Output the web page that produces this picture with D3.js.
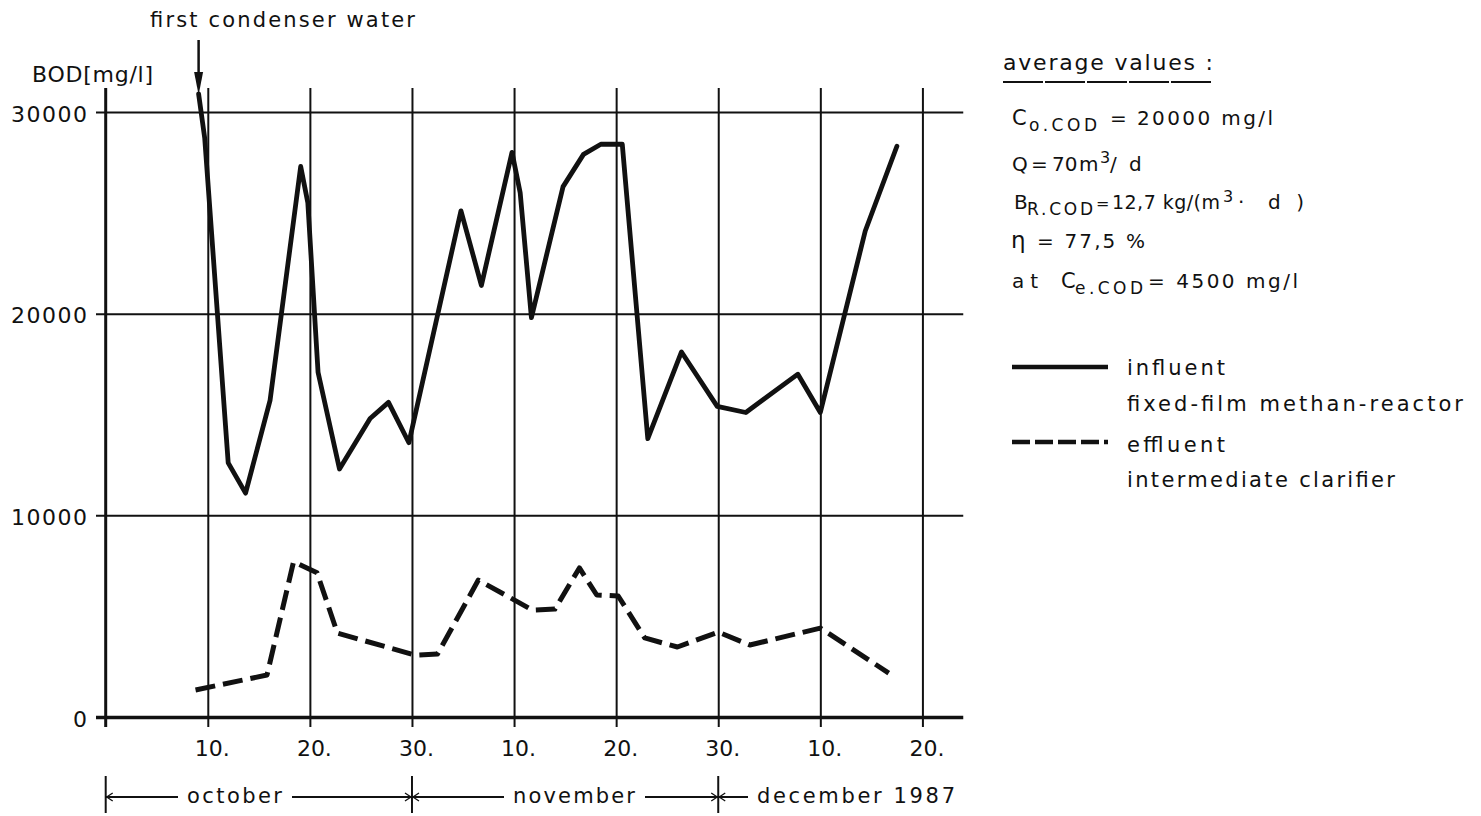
<!DOCTYPE html>
<html><head><meta charset="utf-8">
<script src="https://cdn.jsdelivr.net/npm/d3@7"></script>
<style>
body{margin:0;background:#fff}
svg{display:block}
text{font-family:"DejaVu Sans",sans-serif;fill:#111}
</style>
</head><body>
<svg id="c" width="1481" height="816"></svg>
<script>
// ---- data (days counted with 30-day months: Oct d = d, Nov d = 30+d, Dec d = 60+d)
const influentDays = [9.1, 9.7, 12.0, 13.7, 16.1, 19.1, 19.8, 20.8, 22.9, 25.9, 27.7, 29.7, 34.8, 36.8, 39.8, 40.6, 41.7, 44.8, 46.8, 48.5, 50.6, 53.1, 56.4, 59.9, 62.7, 67.8, 70.0, 74.4, 77.5];
const influentBOD  = [30900, 28700, 12600, 11100, 15700, 27300, 25500, 17100, 12300, 14800, 15600, 13600, 25100, 21400, 28000, 26000, 19800, 26300, 27900, 28400, 28400, 13800, 18100, 15400, 15100, 17000, 15100, 24100, 28300];
const effluentDays = [8.8, 15.8, 18.4, 20.7, 22.7, 30.3, 32.5, 36.5, 41.8, 44.0, 46.4, 48.1, 50.2, 52.8, 56.0, 60.0, 63.1, 70.0, 76.7];
const effluentBOD  = [1340, 2080, 7700, 7150, 4160, 3070, 3120, 6790, 5300, 5350, 7390, 6050, 6000, 3920, 3470, 4210, 3570, 4410, 2180];
const yTicks = [0, 10000, 20000, 30000];
const yTickLabels = ["0", "10000", "20000", "30000"];
const xTickDays = [10, 20, 30, 40, 50, 60, 70, 80];
const xTickLabels = ["10.", "20.", "30.", "10.", "20.", "30.", "10.", "20."];
const monthStarts = [0, 30, 60];
const monthNames = ["october", "november", "december 1987"];
const seriesNames = [["influent", "fixed-film methan-reactor"], ["effluent", "intermediate clarifier"]];

const svg = d3.select("#c");
const x = d3.scaleLinear().domain([0, 84]).range([105.7, 105.7 + 84 * 10.209]);
const y = d3.scaleLinear().domain([0, 30000]).range([717, 112]);
const ink = "#111";

// ---- vertical grid / x axis
const gx = svg.append("g").attr("transform", "translate(0,727)")
  .call(d3.axisBottom(x).tickValues(xTickDays).tickSize(-(727 - 88)).tickPadding(13)
    .tickFormat((d, i) => xTickLabels[i]));
gx.select(".domain").remove();
gx.selectAll(".tick line").attr("stroke", ink).attr("stroke-width", 2);
gx.selectAll(".tick text").attr("font-size", 22).attr("fill", ink).attr("dx", 4)
  .attr("font-family", "DejaVu Sans, sans-serif");

// ---- horizontal grid / y axis
const gy = svg.append("g").attr("transform", "translate(96,0)")
  .call(d3.axisLeft(y).tickValues(yTicks).tickSize(-(x(84) - 96)).tickPadding(9)
    .tickFormat((d, i) => yTickLabels[i]));
gy.select(".domain").remove();
gy.selectAll(".tick line").attr("stroke", ink).attr("stroke-width", d => d === 0 ? 3.5 : 2);
gy.selectAll(".tick text").attr("font-size", 22).attr("fill", ink).attr("dy", 9)
  .attr("font-family", "DejaVu Sans, sans-serif")
  .each(function(d, i) {
    if (yTickLabels[i].length > 1) d3.select(this).attr("textLength", 76).attr("lengthAdjust", "spacing");
  });

// left axis line
svg.append("line").attr("x1", x(0)).attr("x2", x(0)).attr("y1", 88).attr("y2", 727)
  .attr("stroke", ink).attr("stroke-width", 3);

// ---- series
const line = d3.line().x(d => x(d[0])).y(d => y(d[1]));
const infl = influentDays.map((d, i) => [d, influentBOD[i]]);
const effl = effluentDays.map((d, i) => [d, effluentBOD[i]]);
svg.append("path").attr("d", line(infl)).attr("fill", "none").attr("stroke", ink)
  .attr("stroke-width", 4.8).attr("stroke-linejoin", "round").attr("stroke-linecap", "round");
svg.append("path").attr("d", line(effl)).attr("fill", "none").attr("stroke", ink)
  .attr("stroke-width", 5).attr("stroke-dasharray", "20,8").attr("stroke-linejoin", "round");

// ---- text helper
function txt(str, xx, yy, size, len, anchor) {
  const t = svg.append("text").attr("x", xx).attr("y", yy).attr("font-size", size).text(str);
  if (len) t.attr("textLength", len).attr("lengthAdjust", "spacing");
  if (anchor) t.attr("text-anchor", anchor);
  return t;
}

// ---- annotations top-left
txt("first condenser water", 150, 27, 21, 265);
txt("BOD[mg/l]", 32, 82, 22, 121);
const ax = x(influentDays[0]);
svg.append("line").attr("x1", ax).attr("x2", ax).attr("y1", 40).attr("y2", 76)
  .attr("stroke", ink).attr("stroke-width", 2.5);
svg.append("path").attr("d", `M${ax - 4.5},72 L${ax + 4.5},72 L${ax},95 Z`).attr("fill", ink);

// ---- month row
const rowY = 797;
const monthTextStart = [187, 513, 757];
const monthTextLen = [95, 122, 198];
monthStarts.forEach((m, i) => {
  const sx = x(m);
  svg.append("line").attr("x1", sx).attr("x2", sx).attr("y1", 776).attr("y2", 813)
    .attr("stroke", ink).attr("stroke-width", 2);
  txt(monthNames[i], monthTextStart[i], 803, 21, monthTextLen[i]);
  const l2 = monthTextStart[i] - 9;
  svg.append("line").attr("x1", sx).attr("x2", l2).attr("y1", rowY).attr("y2", rowY)
    .attr("stroke", ink).attr("stroke-width", 2);
  svg.append("path").attr("d", `M${sx + 7},${rowY - 4} L${sx + 1},${rowY} L${sx + 7},${rowY + 4}`)
    .attr("fill", "none").attr("stroke", ink).attr("stroke-width", 1.3);
  if (i < monthStarts.length - 1) {
    const nx = x(monthStarts[i + 1]);
    svg.append("line").attr("x1", monthTextStart[i] + monthTextLen[i] + 10).attr("x2", nx)
      .attr("y1", rowY).attr("y2", rowY).attr("stroke", ink).attr("stroke-width", 2);
    svg.append("path").attr("d", `M${nx - 7},${rowY - 4} L${nx - 1},${rowY} L${nx - 7},${rowY + 4}`)
      .attr("fill", "none").attr("stroke", ink).attr("stroke-width", 1.3);
  }
});

// ---- right panel: average values
txt("average values :", 1003, 70, 22, 210);
svg.append("line").attr("x1", 1003).attr("x2", 1213).attr("y1", 82).attr("y2", 82)
  .attr("stroke", ink).attr("stroke-width", 2).attr("stroke-dasharray", "40,2");
// row 1
txt("C", 1012, 125, 21);
txt("o.COD", 1029, 131, 17, 68);
txt("=", 1110, 125, 20);
txt("20000 mg/l", 1137, 125, 20, 136);
// row 2
txt("Q", 1012, 171, 20);
txt("=", 1031, 171, 20);
txt("70", 1052, 171, 20);
txt("m", 1079, 171, 20);
txt("3", 1100, 163, 16);
txt("/", 1110, 171, 20);
txt("d", 1129, 171, 20);
// row 3
txt("B", 1014, 209, 20);
txt("R.COD", 1027, 215, 17, 66);
txt("=", 1096, 209, 16);
txt("12,7 kg/(m", 1112, 209, 19, 108);
txt("3", 1223, 202, 16);
txt("·", 1238, 209, 20);
txt("d)", 1268, 209, 20, 36);
// row 4
txt("η", 1011, 248, 23);
txt("= 77,5 %", 1037, 248, 20, 108);
// row 5
txt("at", 1012, 288, 20, 26);
txt("C", 1061, 288, 21);
txt("e.COD", 1075, 294, 17, 68);
txt("= 4500 mg/l", 1148, 288, 20, 150);

// ---- legend
svg.append("line").attr("x1", 1012).attr("x2", 1108).attr("y1", 367).attr("y2", 367)
  .attr("stroke", ink).attr("stroke-width", 4.5);
txt(seriesNames[0][0], 1127, 375, 21, 98);
txt(seriesNames[0][1], 1127, 411, 21, 336);
svg.append("line").attr("x1", 1012).attr("x2", 1108).attr("y1", 442).attr("y2", 442)
  .attr("stroke", ink).attr("stroke-width", 4.5).attr("stroke-dasharray", "18,5");
txt(seriesNames[1][0], 1127, 452, 21, 98);
txt(seriesNames[1][1], 1127, 487, 21, 268);
</script>
</body></html>
